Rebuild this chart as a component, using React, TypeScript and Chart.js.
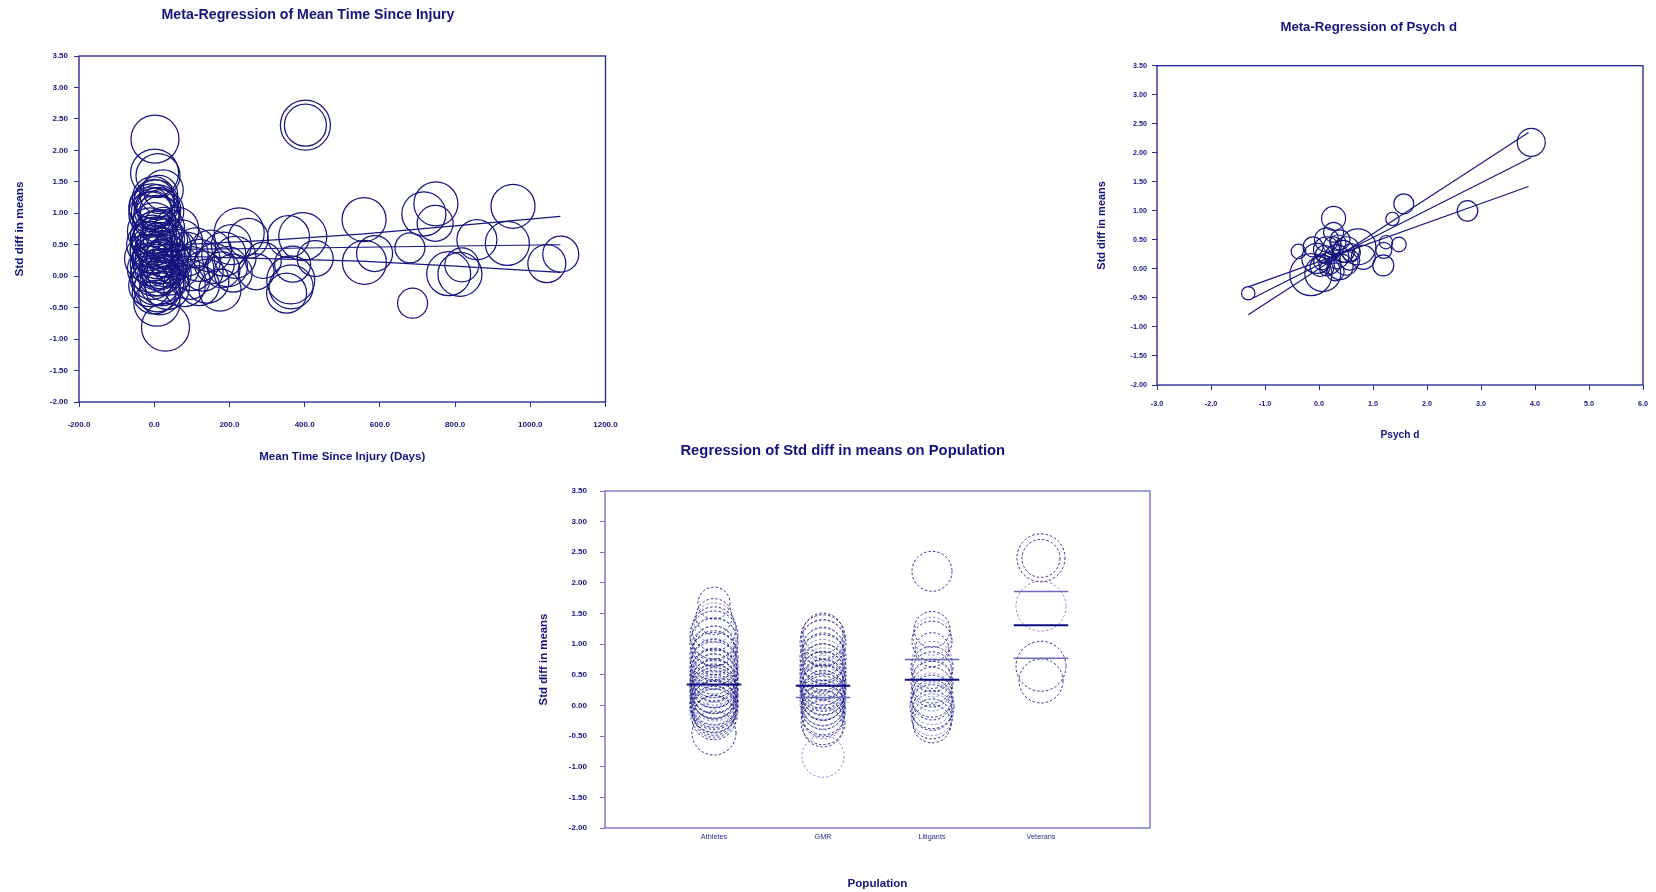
import React, { useEffect, useRef } from 'react';
import Chart from 'chart.js/auto';

const FONT = "'Liberation Sans', Arial, Helvetica, sans-serif";
const TEXT = '#14147c';
const INK = '#16167e';

// Shared value axis: standardised difference in means
const effectTicks = [-2, -1.5, -1, -0.5, 0, 0.5, 1, 1.5, 2, 2.5, 3, 3.5];

// ---------- Meta-regression on mean time since injury ----------
const dayTicks = [-200, 0, 200, 400, 600, 800, 1000, 1200];
// [mean days since injury, std diff in means, study weight]
const injuryStudies: [number, number, number][] = [
  [2, 2.18, 24], [1, 1.64, 24], [10, 1.6, 22], [24, 1.37, 20],
  [-2, 1.25, 21], [5, 1.18, 22], [-6, 1.1, 23], [12, 1.06, 22], [3, 1.02, 24], [-9, 0.99, 22],
  [16, 0.96, 20], [8, 1.12, 21], [0, 1.22, 20], [20, 1.03, 22], [12, 1.3, 19], [-11, 1.08, 21],
  [6, 0.92, 23], [-3, 1.05, 19],
  [0, 0.82, 22], [-10, 0.72, 23], [10, 0.67, 24], [25, 0.76, 21], [-5, 0.62, 22], [5, 0.56, 24],
  [30, 0.56, 22], [-12, 0.51, 23], [15, 0.49, 23], [40, 0.46, 22], [0, 0.43, 24], [-8, 0.38, 21],
  [20, 0.36, 23], [8, 0.31, 22], [-15, 0.28, 24], [35, 0.31, 21], [2, 0.26, 23], [18, 0.23, 22],
  [-5, 0.19, 22], [10, 0.16, 24], [45, 0.21, 20], [-10, 0.11, 23], [25, 0.09, 22], [0, 0.05, 23],
  [12, 0.02, 21], [-6, -0.02, 22], [30, -0.03, 23], [5, -0.08, 24], [20, -0.12, 22], [-12, -0.15, 21],
  [8, -0.2, 23], [35, -0.18, 22], [0, -0.25, 22], [15, -0.28, 21], [-3, 0.35, 20], [22, 0.6, 22],
  [6, 0.45, 21], [28, 0.2, 23], [-8, 0.55, 20], [14, 0.12, 20], [3, 0.7, 21], [40, 0.05, 22],
  [7, -0.43, 23], [30, -0.81, 24],
  [60, 0.75, 22], [70, 0.55, 22], [85, 0.35, 22], [65, 0.15, 21], [95, -0.05, 20], [110, 0.45, 20],
  [120, 0.25, 21], [130, 0.08, 20], [140, -0.08, 22], [150, 0.4, 21], [160, 0.2, 20], [175, -0.22, 21],
  [185, 0.35, 22], [195, 0.15, 20], [205, 0.5, 20], [215, 0.3, 21], [226, 0.69, 25], [250, 0.6, 20],
  [271, 0.07, 18], [210, 0.05, 19], [100, 0.12, 22], [80, -0.15, 21], [55, 0.4, 22], [120, -0.15, 20],
  [180, 0.1, 18],
  [402, 2.4, 25], [402, 2.4, 21],
  [357, 0.63, 21], [395, 0.63, 24], [428, 0.28, 18], [363, -0.06, 24], [352, -0.27, 20], [364, -0.17, 22],
  [368, 0.19, 18], [290, 0.25, 18],
  [558, 0.9, 22], [559, 0.22, 22], [586, 0.36, 18],
  [680, 0.45, 15], [687, -0.43, 15], [717, 0.99, 22], [749, 1.15, 22], [747, 0.84, 18], [783, 0.04, 22],
  [813, 0.03, 22], [818, 0.18, 17], [858, 0.58, 20],
  [939, 0.52, 22], [954, 1.11, 22], [1044, 0.2, 19], [1081, 0.35, 18],
];
const injuryTrendDays = [-10, 100, 300, 550, 800, 1080];
const injuryTrendFit = [0.42, 0.43, 0.44, 0.46, 0.48, 0.5];
const injuryTrendUpper = [0.5, 0.51, 0.57, 0.67, 0.8, 0.95];
const injuryTrendLower = [0.34, 0.31, 0.28, 0.24, 0.16, 0.06];

// ---------- Meta-regression on Psych d ----------
const psychTicks = [-3, -2, -1, 0, 1, 2, 3, 4, 5, 6];
// [psych d, std diff in means, study weight]
const psychStudies: [number, number, number][] = [
  [3.93, 2.18, 14], [1.57, 1.12, 10], [1.36, 0.86, 6.7], [2.75, 1.0, 10.3], [0.27, 0.87, 12],
  [1.24, 0.46, 6.7], [1.48, 0.42, 7.3], [1.19, 0.06, 10.5], [1.2, 0.32, 8], [-0.38, 0.3, 7.3],
  [-1.31, -0.42, 6.7], [-0.15, -0.1, 21], [0.07, -0.08, 18], [-0.04, 0.18, 15], [0.72, 0.38, 18],
  [0.82, 0.2, 12], [0.27, 0.63, 10], [0.14, 0.5, 12], [0.39, 0.5, 10], [0.51, 0.33, 13],
  [0.14, 0.33, 13], [0.02, 0.04, 10], [0.33, 0.21, 12], [0.05, 0.12, 8], [-0.11, 0.38, 10],
  [0.39, 0.04, 13], [0.57, 0.15, 10], [0.14, 0.0, 7], [0.25, 0.4, 9], [0.45, 0.3, 11],
  [0.2, 0.1, 11], [0.6, 0.28, 9], [0.35, 0.45, 8], [0.1, 0.25, 9], [0.5, 0.1, 12], [0.3, -0.05, 9],
];
const psychTrendFlat: [number, number][] = [[-1.31, -0.31], [3.88, 1.42]];
const psychTrendFit: [number, number][] = [[-1.22, -0.5], [3.93, 1.92]];
const psychTrendSteep: [number, number][] = [[-1.31, -0.79], [3.88, 2.35]];

// ---------- Regression on population ----------
const populations = ['Athletes', 'GMR', 'Litigants', 'Veterans'];
// [std diff in means, study weight] per population
const athleteStudies: [number, number][] = [
  [1.67, 16], [1.45, 18], [1.35, 20], [1.25, 22], [1.15, 24], [1.08, 22], [1.03, 24], [0.97, 20],
  [0.92, 23], [0.86, 22], [0.8, 24], [0.75, 21], [0.7, 23], [0.65, 24], [0.6, 20], [0.56, 23],
  [0.52, 24], [0.48, 22], [0.45, 24], [0.42, 21], [0.38, 23], [0.35, 24], [0.32, 22], [0.3, 20],
  [0.27, 24], [0.24, 23], [0.21, 21], [0.18, 24], [0.15, 22], [0.12, 23], [0.1, 20], [0.07, 24],
  [0.05, 22], [0.02, 23], [0.0, 24], [-0.03, 21], [-0.06, 23], [-0.09, 22], [-0.12, 24], [-0.16, 20],
  [-0.2, 22], [-0.24, 18], [-0.45, 22],
];
const gmrStudies: [number, number][] = [
  [1.18, 20], [1.12, 22], [1.06, 21], [1.02, 23], [0.95, 20], [0.9, 22], [0.84, 21], [0.78, 23],
  [0.72, 22], [0.68, 20], [0.63, 23], [0.58, 22], [0.54, 21], [0.5, 23], [0.46, 22], [0.42, 20],
  [0.38, 23], [0.35, 21], [0.31, 22], [0.28, 23], [0.25, 20], [0.21, 22], [0.18, 21], [0.15, 23],
  [0.12, 22], [0.08, 20], [0.05, 23], [0.01, 21], [-0.03, 22], [-0.07, 20], [-0.12, 22], [-0.17, 21],
  [-0.22, 20], [-0.28, 22], [-0.35, 20], [-0.83, 21],
];
const litigantStudies: [number, number][] = [
  [2.19, 20], [1.24, 18], [1.13, 19], [1.05, 20], [0.91, 17], [0.72, 20], [0.62, 21], [0.55, 20],
  [0.45, 19], [0.38, 21], [0.3, 20], [0.22, 19], [0.15, 21], [0.09, 20], [0.03, 21], [-0.02, 22],
  [-0.08, 20], [-0.15, 21], [-0.22, 20], [-0.3, 19],
];
const veteranStudies: [number, number][] = [
  [2.41, 24], [2.4, 19], [1.62, 25], [0.64, 25], [0.4, 22],
];
const populationFits = [0.34, 0.32, 0.42, 1.31];
// [population number, band value]
const populationBands: [number, number][] = [[2, 0.13], [3, 0.75], [4, 1.86], [4, 0.77]];
const populationTicks = [1, 2, 3, 4];
const GROUP_HALF_WIDTH = 0.25;

// ---------- helpers ----------
const font = (size: number, bold = true) => ({ family: FONT, size, weight: bold ? 'bold' : 'normal' });

function headingPlugin(text: string, x: number, y: number, size: number) {
  return {
    id: 'heading',
    afterDraw(chart: any) {
      const ctx = chart.ctx;
      ctx.save();
      ctx.font = `bold ${size}px ${FONT}`;
      ctx.fillStyle = TEXT;
      ctx.textAlign = 'center';
      ctx.textBaseline = 'middle';
      ctx.fillText(text, x, y);
      ctx.restore();
    },
  };
}

function framePlugin(color: string, width: number) {
  return {
    id: 'frame',
    beforeDatasetsDraw(chart: any) {
      const { ctx, chartArea: a } = chart;
      ctx.save();
      ctx.strokeStyle = color;
      ctx.lineWidth = width;
      ctx.strokeRect(a.left, a.top, a.right - a.left, a.bottom - a.top);
      ctx.restore();
    },
  };
}

// dashed outlines for bubble datasets that carry a `dash` pattern
const dashPlugin = {
  id: 'circleDash',
  beforeDatasetDraw(chart: any, args: any) {
    const ds = chart.data.datasets[args.index];
    if (ds.dash) chart.ctx.setLineDash(ds.dash);
  },
  afterDatasetDraw(chart: any) {
    chart.ctx.setLineDash([]);
  },
};

function effectAxis(o: { width: number; tickSize: number; tickPad: number; titleSize: number; titlePad: number; tickColor: string }) {
  return {
    type: 'linear',
    position: 'left',
    min: -2,
    max: 3.5,
    afterBuildTicks: (s: any) => { s.ticks = effectTicks.map((value) => ({ value })); },
    afterFit: (s: any) => { s.width = o.width; },
    ticks: { color: TEXT, padding: o.tickPad, font: font(o.tickSize), callback: (v: any) => Number(v).toFixed(2) },
    grid: { drawOnChartArea: false, drawTicks: true, tickLength: 5, color: o.tickColor, lineWidth: 1 },
    border: { display: false },
    title: { display: true, text: 'Std diff in means', color: TEXT, font: font(o.titleSize), padding: { top: o.titlePad, bottom: 0 } },
  };
}

function valueAxisX(o: { ticks: number[]; min: number; max: number; height: number; tickSize: number; tickPad: number; title: string; titleSize: number; titlePad: number; tickColor: string }) {
  return {
    type: 'linear',
    position: 'bottom',
    min: o.min,
    max: o.max,
    afterBuildTicks: (s: any) => { s.ticks = o.ticks.map((value) => ({ value })); },
    afterFit: (s: any) => { s.height = o.height; s.paddingLeft = 0; s.paddingRight = 0; },
    ticks: { color: TEXT, padding: o.tickPad, font: font(o.tickSize), maxRotation: 0, autoSkip: false, callback: (v: any) => Number(v).toFixed(1) },
    grid: { drawOnChartArea: false, drawTicks: true, tickLength: 5, color: o.tickColor, lineWidth: 1 },
    border: { display: false },
    title: { display: true, text: o.title, color: TEXT, font: font(o.titleSize), padding: { top: 0, bottom: o.titlePad } },
  };
}

const trendLine = (pts: [number, number][], color: string, width: number) => ({
  type: 'line',
  data: pts.map(([x, y]) => ({ x, y })),
  borderColor: color,
  borderWidth: width,
  pointRadius: 0,
  pointHoverRadius: 0,
  fill: false,
  tension: 0,
});

const zip = (xs: number[], ys: number[]): [number, number][] => xs.map((x, i) => [x, ys[i]]);

const baseOptions = (padding: any) => ({
  responsive: false,
  animation: false,
  devicePixelRatio: 1,
  events: [],
  layout: { padding, autoPadding: false },
  plugins: { legend: { display: false }, tooltip: { enabled: false }, title: { display: false } },
});

// ---------- chart configs ----------
function injuryChart() {
  const frame = '#2e2e92';
  return {
    type: 'bubble',
    data: {
      datasets: [
        {
          data: injuryStudies.map(([x, y, w]) => ({ x, y, r: w })),
          borderColor: INK,
          backgroundColor: 'rgba(0,0,0,0)',
          borderWidth: 1.25,
        },
        trendLine(zip(injuryTrendDays, injuryTrendUpper), INK, 1.2),
        trendLine(zip(injuryTrendDays, injuryTrendFit), INK, 1.2),
        trendLine(zip(injuryTrendDays, injuryTrendLower), INK, 1.2),
      ],
    },
    options: {
      ...baseOptions({ left: 0, top: 56, right: 34.5, bottom: 0 }),
      scales: {
        x: valueAxisX({ ticks: dayTicks, min: -200, max: 1200, height: 73, tickSize: 8, tickPad: 12.5, title: 'Mean Time Since Injury (Days)', titleSize: 11.5, titlePad: 11, tickColor: frame }),
        y: effectAxis({ width: 79, tickSize: 8, tickPad: 6, titleSize: 11.8, titlePad: 13, tickColor: frame }),
      },
    },
    plugins: [framePlugin(frame, 1.4), headingPlugin('Meta-Regression of Mean Time Since Injury', 308, 15, 14.2)],
  };
}

function psychChart() {
  const frame = '#2e2e92';
  return {
    type: 'bubble',
    data: {
      datasets: [
        {
          data: psychStudies.map(([x, y, w]) => ({ x, y, r: w })),
          borderColor: INK,
          backgroundColor: 'rgba(0,0,0,0)',
          borderWidth: 1.2,
        },
        trendLine(psychTrendSteep, INK, 1.2),
        trendLine(psychTrendFit, INK, 1.2),
        trendLine(psychTrendFlat, INK, 1.2),
      ],
    },
    options: {
      ...baseOptions({ left: 0, top: 65.7, right: 13, bottom: 0 }),
      scales: {
        x: valueAxisX({ ticks: psychTicks, min: -3, max: 6, height: 65, tickSize: 7.2, tickPad: 10, title: 'Psych d', titleSize: 10.2, titlePad: 9, tickColor: frame }),
        y: effectAxis({ width: 77, tickSize: 7.2, tickPad: 5, titleSize: 11, titlePad: 15, tickColor: frame }),
      },
    },
    plugins: [framePlugin(frame, 1.4), headingPlugin('Meta-Regression of Psych d', 288.7, 27.5, 13.2)],
  };
}

function populationChart() {
  const frame = '#7474c6';
  const dark = 'rgba(16,16,122,0.85)';
  const light = 'rgba(90,90,192,0.7)';
  const groups = [athleteStudies, gmrStudies, litigantStudies, veteranStudies];
  const bubbles = groups.map((studies, g) => ({
    data: studies.map(([y, w]) => ({ x: g + 1, y, r: w })),
    borderColor: (c: any) => (c.dataIndex % 3 === 2 ? light : dark),
    backgroundColor: 'rgba(0,0,0,0)',
    borderWidth: 1,
    dash: [2.5, 2],
  }));
  const fits = populationFits.map((v, i) =>
    trendLine([[i + 1 - GROUP_HALF_WIDTH, v], [i + 1 + GROUP_HALF_WIDTH, v]], '#0c0c80', 2),
  );
  const bands = populationBands.map(([g, v]) =>
    trendLine([[g - GROUP_HALF_WIDTH, v], [g + GROUP_HALF_WIDTH, v]], '#6a6abd', 1.4),
  );
  return {
    type: 'bubble',
    data: { datasets: [...fits, ...bands, ...bubbles] },
    options: {
      ...baseOptions({ left: 0, top: 61, right: 30, bottom: 0 }),
      scales: {
        x: {
          type: 'linear',
          position: 'bottom',
          min: 0,
          max: 5,
          afterBuildTicks: (s: any) => { s.ticks = populationTicks.map((value) => ({ value })); },
          afterFit: (s: any) => { s.height = 64; s.paddingLeft = 0; s.paddingRight = 0; },
          ticks: { color: '#2a2a8c', padding: 5, font: font(7.3, false), maxRotation: 0, autoSkip: false, callback: (v: any) => populations[Number(v) - 1] ?? '' },
          grid: { display: false, drawOnChartArea: false, drawTicks: false },
          border: { display: false },
          title: { display: true, text: 'Population', color: TEXT, font: font(11.6), padding: { top: 0, bottom: 1 } },
        },
        y: effectAxis({ width: 105, tickSize: 8, tickPad: 13, titleSize: 11.4, titlePad: 37, tickColor: frame }),
      },
    },
    plugins: [framePlugin(frame, 1.4), dashPlugin, headingPlugin('Regression of Std diff in means on Population', 342.8, 21, 14.8)],
  };
}

function ChartCanvas({ make, left, top, width, height }: { make: () => any; left: number; top: number; width: number; height: number }) {
  const ref = useRef<HTMLCanvasElement>(null);
  useEffect(() => {
    const chart = new Chart(ref.current as HTMLCanvasElement, make());
    return () => chart.destroy();
  }, [make]);
  return (
    <canvas
      ref={ref}
      width={width}
      height={height}
      style={{ position: 'absolute', left, top, width, height }}
    />
  );
}

export default function App() {
  return (
    <div style={{ position: 'fixed', left: 0, top: 0, width: 1656, height: 892, background: '#ffffff', overflow: 'hidden' }}>
      <ChartCanvas make={injuryChart} left={0} top={0} width={640} height={475} />
      <ChartCanvas make={psychChart} left={1080} top={0} width={576} height={450} />
      <ChartCanvas make={populationChart} left={500} top={430} width={680} height={462} />
    </div>
  );
}
